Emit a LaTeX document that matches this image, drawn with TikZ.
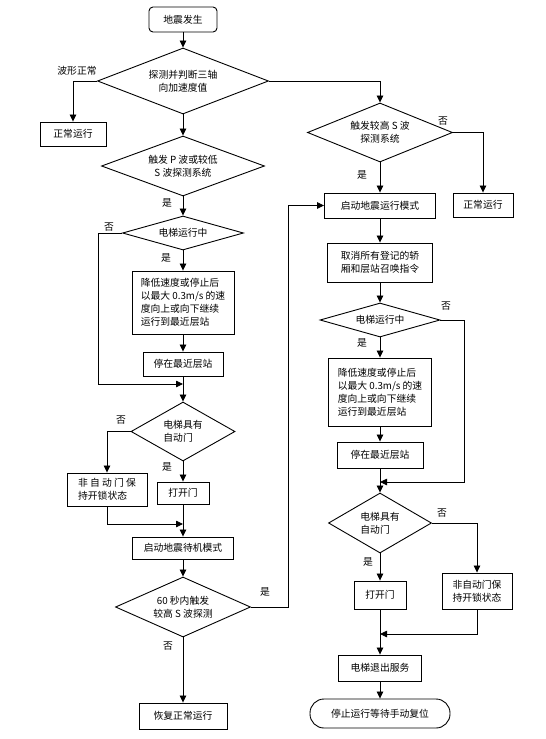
\documentclass[tikz,border=0pt]{standalone}
\usepackage{fontspec}
\newfontfamily\cjk{Noto Sans CJK SC}
\usetikzlibrary{shapes.geometric,arrows.meta}
\begin{document}
\begin{tikzpicture}[x=1pt,y=-1pt,
 every node/.style={font=\cjk\fontsize{9.8}{13}\selectfont},
 box/.style={draw,line width=0.9pt,inner sep=0pt,align=center},
 dia/.style={draw,diamond,line width=0.9pt,inner sep=0pt},
 txt/.style={align=center,inner sep=0pt},
 ltxt/.style={align=left,inner sep=0pt},
 lbl/.style={inner sep=0pt},
 arr/.style={line width=0.8pt,-{Triangle[length=7pt,width=6.5pt]}},
 ln/.style={line width=0.8pt}]
\useasboundingbox (0,0) rectangle (546,739);

% ---------- top ----------
\node[box,rounded corners=4pt,minimum width=68pt,minimum height=25pt] (start) at (183,19.5) {地震发生};
\node[dia,minimum width=171pt,minimum height=66pt] (d1) at (183,81) {};
\node[txt] at (d1) {探测并判断三轴\\向加速度值};
\node[box,minimum width=66pt,minimum height=24pt] (ok1) at (73,134) {正常运行};
\node[lbl] (l0) at (77,71) {波形正常};

% ---------- left column ----------
\node[dia,minimum width=163pt,minimum height=60pt] (d2L) at (183,166) {};
\node[txt] at (d2L) {触发 P 波或较低\\S 波探测系统};
\node[dia,minimum width=121pt,minimum height=34pt] (d3L) at (183,233) {};
\node[txt] at (d3L) {电梯运行中};
\node[box,minimum width=102pt,minimum height=63pt] (slowL) at (183,302.5) {};
\node[ltxt] at (slowL) {降低速度或停止后\\以最大 0.3m/s 的速\\度向上或向下继续\\运行到最近层站};
\node[box,minimum width=80pt,minimum height=24pt] (stopL) at (183,364) {停在最近层站};
\coordinate (jL) at (183,384);
\node[dia,minimum width=104pt,minimum height=59pt] (d4L) at (183,431.5) {};
\node[ltxt] at (d4L) {电梯具有\\自动门};
\node[box,minimum width=80pt,minimum height=33pt] (nonautoL) at (107,489.5) {};
\node[ltxt] at (nonautoL) {非 自 动 门 保\\持开锁状态};
\node[box,minimum width=52pt,minimum height=22pt] (openL) at (183,493) {打开门};
\coordinate (jL2) at (183,524);
\node[box,minimum width=101pt,minimum height=22pt] (standby) at (183,548) {启动地震待机模式};
\node[dia,minimum width=135pt,minimum height=60pt] (d5) at (183,607) {};
\node[txt] at (d5) {60 秒内触发\\较高 S 波探测};
\node[box,minimum width=88pt,minimum height=26pt] (normal) at (183,716) {恢复正常运行};

% ---------- right column ----------
\node[dia,minimum width=145pt,minimum height=59pt] (d2R) at (380,132.5) {};
\node[txt] at (d2R) {触发较高 S 波\\探测系统};
\node[box,minimum width=60pt,minimum height=24pt] (ok2) at (483,205) {正常运行};
\node[box,minimum width=111pt,minimum height=25pt] (mode) at (380,205.5) {启动地震运行模式};
\node[box,minimum width=105pt,minimum height=39pt] (cancel) at (380,262.5) {};
\node[txt] at (cancel) {取消所有登记的轿\\厢和层站召唤指令};
\node[dia,minimum width=120pt,minimum height=34pt] (d3R) at (380,320) {};
\node[txt] at (d3R) {电梯运行中};
\node[box,minimum width=103pt,minimum height=68pt] (slowR) at (380,392) {};
\node[ltxt] at (slowR) {降低速度或停止后\\以最大 0.3m/s 的速\\度向上或向下继续\\运行到最近层站};
\node[box,minimum width=86pt,minimum height=26pt] (stopR) at (380,455) {停在最近层站};
\coordinate (jR) at (380,482);
\node[dia,minimum width=103pt,minimum height=60pt] (d4R) at (380,523) {};
\node[ltxt] at (d4R) {电梯具有\\自动门};
\node[box,minimum width=70pt,minimum height=36pt] (nonautoR) at (477,591) {};
\node[txt] at (nonautoR) {非自动门保\\持开锁状态};
\node[box,minimum width=52pt,minimum height=28pt] (openR) at (380,595) {打开门};
\coordinate (jR2) at (380,634);
\node[box,minimum width=83pt,minimum height=26pt] (exit) at (380,668) {电梯退出服务};
\node[box,rounded corners=14pt,minimum width=140pt,minimum height=29pt] (end) at (380,713.5) {停止运行等待手动复位};

% ---------- labels ----------
\node[lbl] at (443,121) {否};
\node[lbl] at (362,175) {是};
\node[lbl] at (167,203) {是};
\node[lbl] at (109,227) {否};
\node[lbl] at (166,258) {是};
\node[lbl] at (121,420) {否};
\node[lbl] at (167,467) {是};
\node[lbl] at (265,592) {是};
\node[lbl] at (168,646) {否};
\node[lbl] at (446,306) {否};
\node[lbl] at (362,343) {是};
\node[lbl] at (442,513) {否};
\node[lbl] at (368,562) {是};

% ---------- connectors ----------
\draw[arr] (start) -- (d1);
\draw[arr] (d1.west) -| (ok1.north);
\draw[arr] (d1.east) -| (d2R.north);
\draw[arr] (d1) -- (d2L);
\draw[arr] (d2L) -- (d3L);
\draw[arr] (d3L) -- (slowL);
\draw[arr] (slowL) -- (stopL);
\draw[ln] (stopL) -- (jL);
\draw[arr] (d3L.west) -- ++(-24,0) |- (jL);
\draw[arr] (jL) -- (d4L);
\draw[arr] (d4L.west) -| (nonautoL.north);
\draw[arr] (d4L) -- (openL);
\draw[arr] (openL) -- (standby);
\draw[arr] (nonautoL.south) |- (jL2);
\draw[arr] (standby) -- (d5);
\draw[arr] (d5) -- (normal);
\draw[arr] (d5.east) -- ++(37,0) |- (mode.west);

\draw[arr] (d2R.east) -| (ok2.north);
\draw[arr] (d2R) -- (mode);
\draw[arr] (mode) -- (cancel);
\draw[arr] (cancel) -- (d3R);
\draw[arr] (d3R) -- (slowR);
\draw[arr] (slowR) -- (stopR);
\draw[arr] (stopR) -- (d4R);
\draw[arr] (d3R.east) -- ++(24,0) |- (jR);
\draw[arr] (d4R.east) -| (nonautoR.north);
\draw[arr] (d4R) -- (openR);
\draw[arr] (openR) -- (exit);
\draw[arr] (nonautoR.south) |- (jR2);
\draw[arr] (exit) -- (end);
\end{tikzpicture}
\end{document}
